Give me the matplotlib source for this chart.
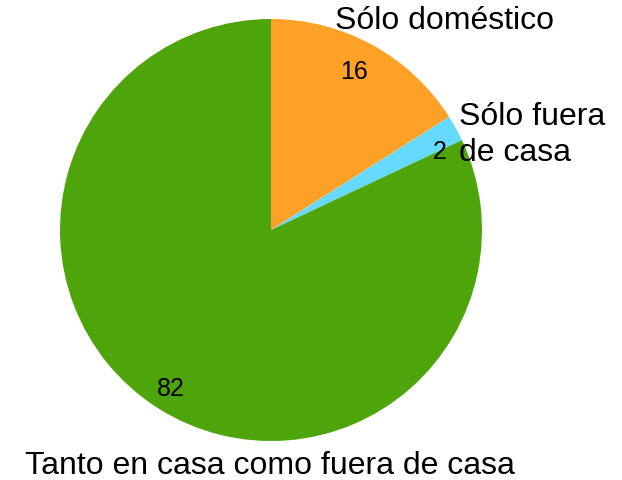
import matplotlib.pyplot as plt

labels = ['Sólo doméstico', 'Sólo fuera\nde casa', 'Tanto en casa como fuera de casa']
values = [16, 2, 82]
colors = ['#FFA126', '#66D9FF', '#4EA50B']

plt.rcParams['font.family'] = ['Liberation Sans', 'DejaVu Sans']

W, H = 622, 481
cx, cy, r = 271, 231, 211
fig = plt.figure(figsize=(W / 100, H / 100), dpi=100)
ax = fig.add_axes([(cx - r) / W, (H - cy - r) / H, 2 * r / W, 2 * r / H])

wedges, texts = ax.pie(values, colors=colors, startangle=90, counterclock=False,
                       radius=1, wedgeprops={'linewidth': 0})
ax.set_xlim(-1, 1)
ax.set_ylim(-1, 1)
ax.set_aspect('equal')
ax.axis('off')

# value labels inside slices
pos = [(354, 72), (440, 152), (171, 389)]
for v, (px, py) in zip(values, pos):
    fig.text(px / W, 1 - py / H, str(v), fontsize=18, ha='center', va='center')

# category labels
fig.text(335 / W, 1 - 21 / H, labels[0], fontsize=23, ha='left', va='center')
fig.text(459 / W, 1 - 135 / H, labels[1], fontsize=23, ha='left', va='center',
         linespacing=1.28)
fig.text(270 / W, 1 - 466 / H, labels[2], fontsize=23, ha='center', va='center')

fig.savefig('out.png', dpi=100)
